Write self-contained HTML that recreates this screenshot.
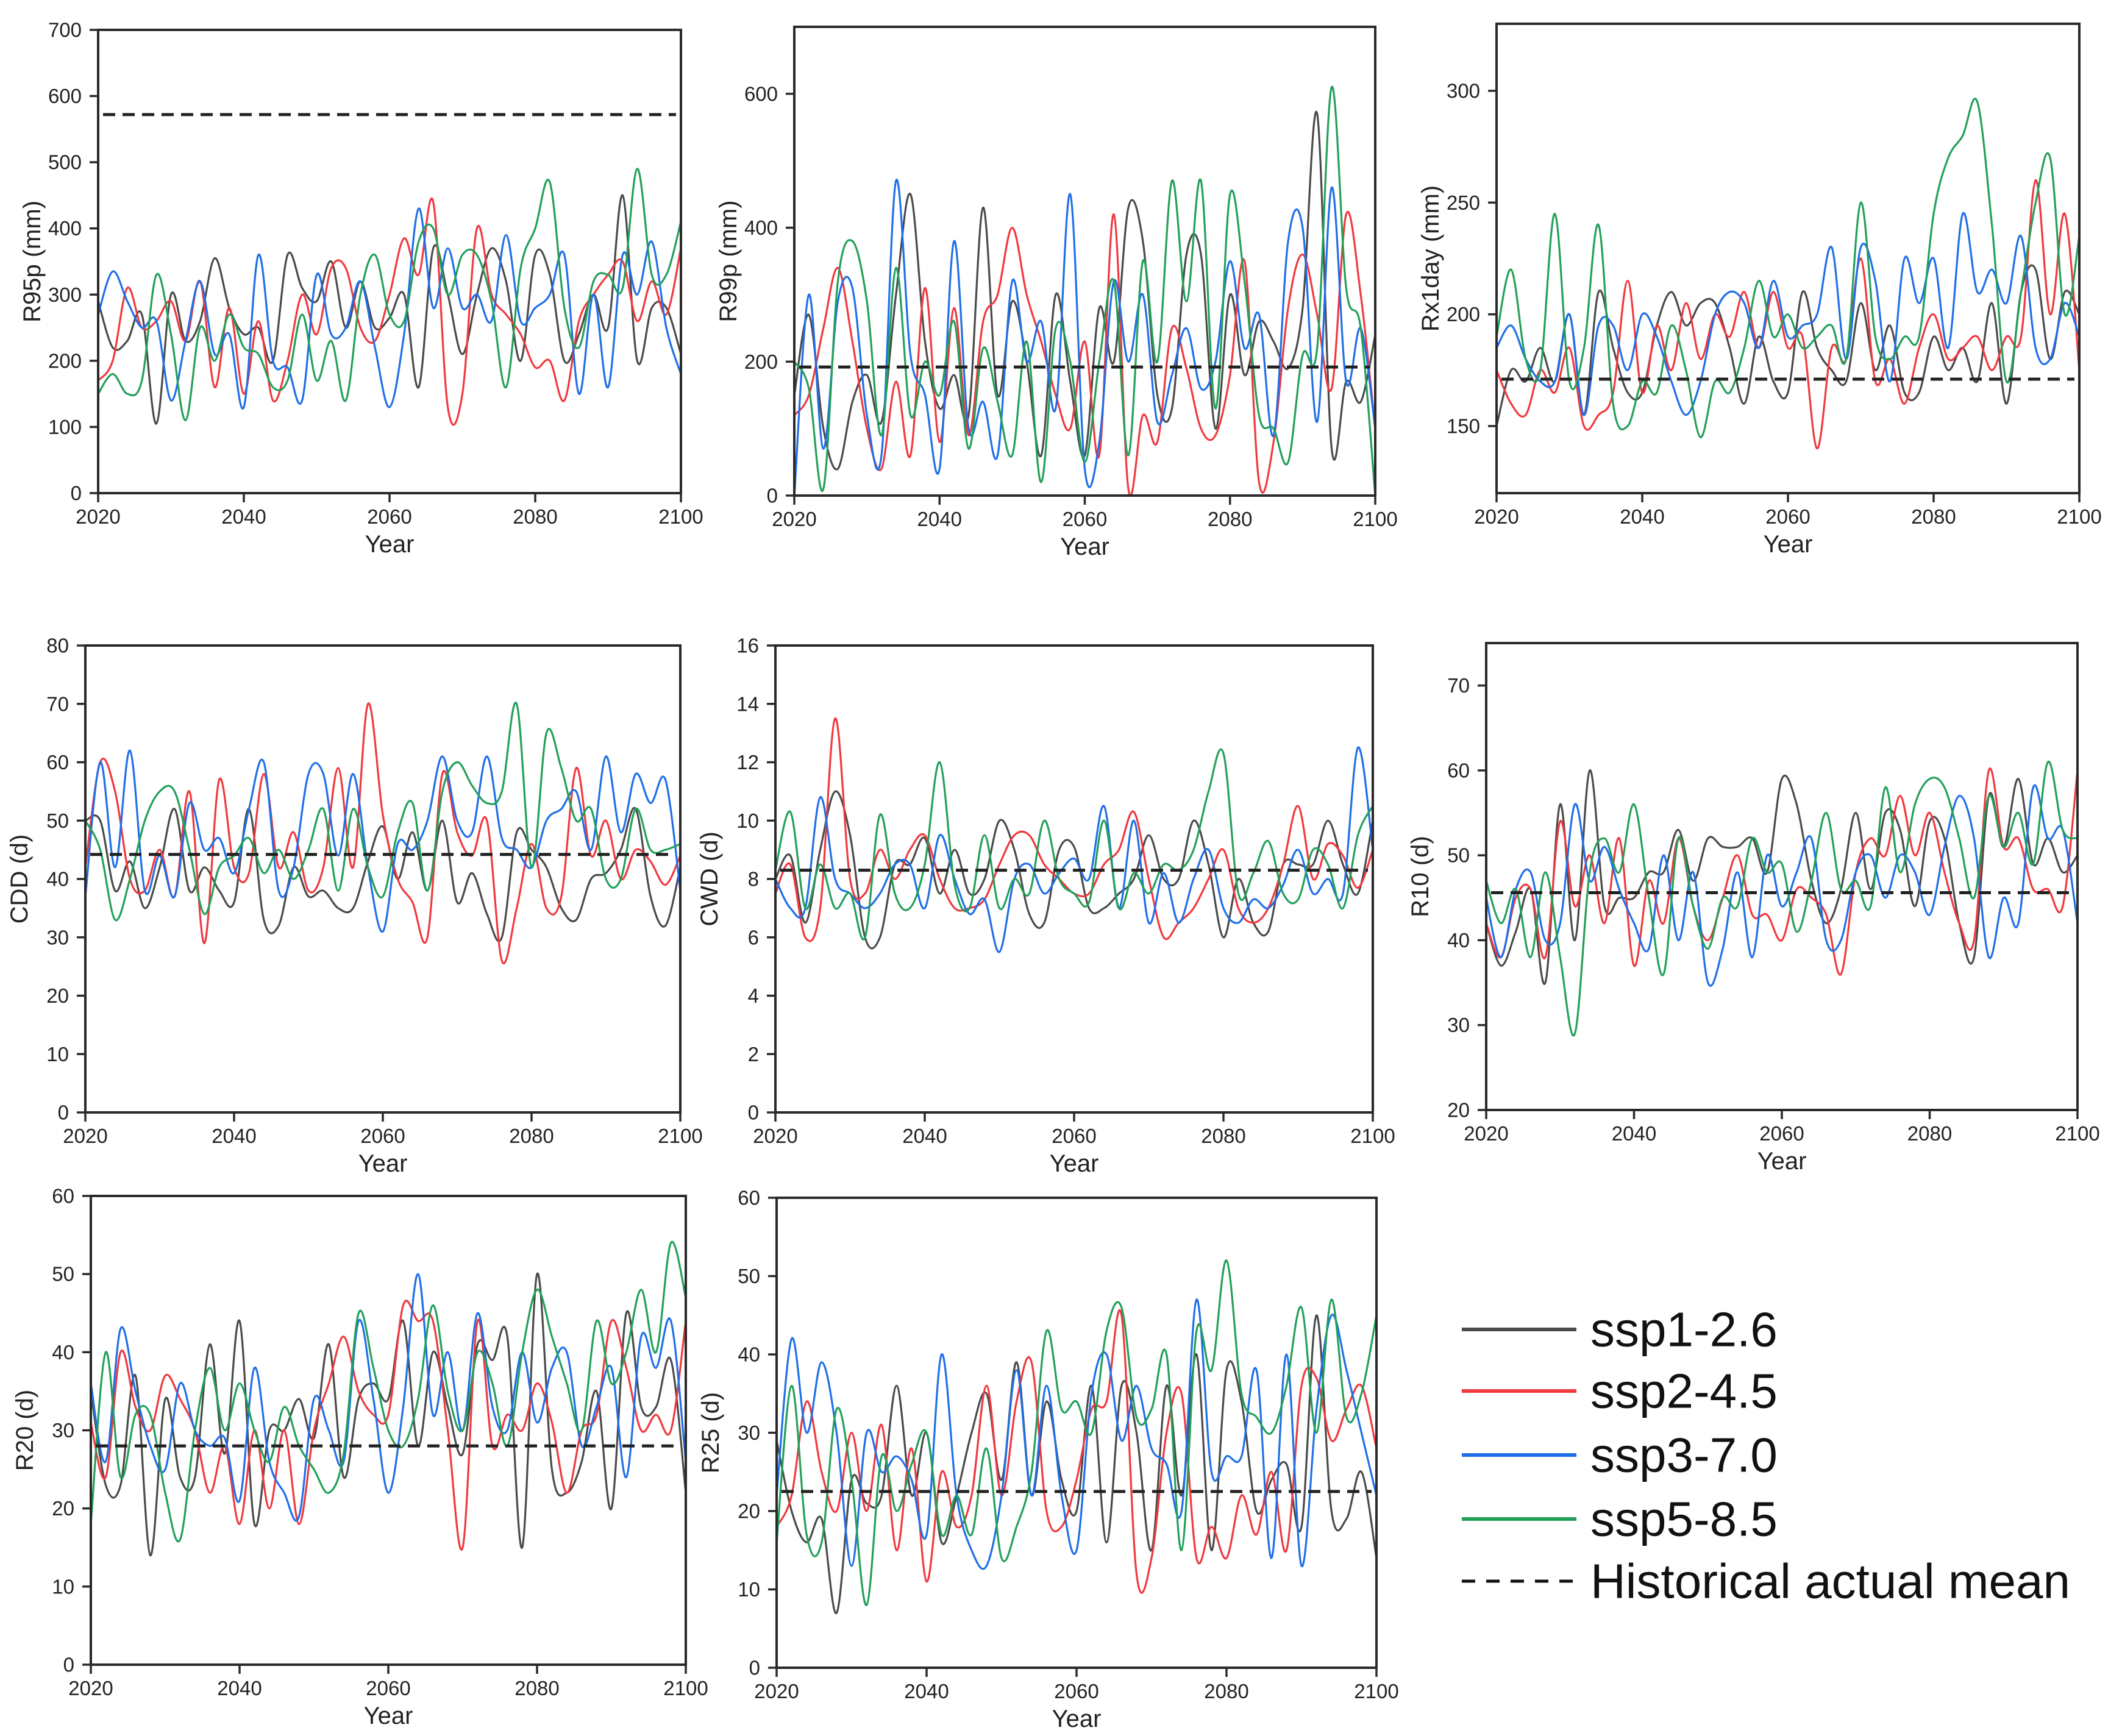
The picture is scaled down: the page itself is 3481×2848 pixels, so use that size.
<!DOCTYPE html>
<html><head><meta charset="utf-8"><style>
html,body{margin:0;padding:0;background:#fff;}
svg{display:block;font-family:"Liberation Sans",Arial,sans-serif;}
</style></head><body>
<svg id="fig" xmlns="http://www.w3.org/2000/svg" width="3481" height="2848" viewBox="0 0 3481 2848">
<rect width="3481" height="2848" fill="#fff"/>
<g id="legend">
 <g><line x1="2398" y1="2181" x2="2586" y2="2181" stroke="#4a4a4a" stroke-width="6"/><text x="2609" y="2181" font-size="80" dominant-baseline="central" fill="#111">ssp1-2.6</text></g>
 <g><line x1="2398" y1="2282" x2="2586" y2="2282" stroke="#f0393f" stroke-width="6"/><text x="2609" y="2282" font-size="80" dominant-baseline="central" fill="#111">ssp2-4.5</text></g>
 <g><line x1="2398" y1="2387" x2="2586" y2="2387" stroke="#1f6fe8" stroke-width="6"/><text x="2609" y="2387" font-size="80" dominant-baseline="central" fill="#111">ssp3-7.0</text></g>
 <g><line x1="2398" y1="2492" x2="2586" y2="2492" stroke="#22a05a" stroke-width="6"/><text x="2609" y="2492" font-size="80" dominant-baseline="central" fill="#111">ssp5-8.5</text></g>
 <g><line x1="2398" y1="2594" x2="2586" y2="2594" stroke="#111" stroke-width="5" stroke-dasharray="22 18"/><text x="2609" y="2594" font-size="80" dominant-baseline="central" fill="#111">Historical actual mean</text></g>
</g>
</svg>
<script>
const years = [2020,2022,2024,2026,2028,2030,2032,2034,2036,2038,2040,2042,2044,2046,2048,2050,2052,2054,2056,2058,2060,2062,2064,2066,2068,2070,2072,2074,2076,2078,2080,2082,2084,2086,2088,2090,2092,2094,2096,2098,2100];
const xTicks = [2020,2040,2060,2080,2100];

// R95p
const r95p_ssp126 = [290,220,230,270,105,300,230,260,355,280, 240,250,200,360,310,290,350,250,320,250, 265,300,160,370,300,210,300,370,320,200, 360,330,200,240,300,250,450,200,280,280, 210];
const r95p_ssp245 = [170,200,310,250,260,290,230,320,160,280, 150,260,140,200,300,240,340,340,250,230, 300,385,330,440,130,150,400,300,270,240, 190,200,140,260,300,330,350,260,320,270, 370];
const r95p_ssp370 = [270,335,290,250,260,140,230,320,210,240, 130,360,200,190,140,330,240,250,320,220, 130,240,430,280,370,280,300,260,390,260, 280,300,360,150,300,160,360,300,380,250, 180];
const r95p_ssp585 = [150,180,150,170,330,240,110,250,200,270, 220,210,160,170,270,170,230,140,300,360, 270,260,380,400,300,360,360,290,160,340, 400,470,280,220,320,330,310,490,330,330, 410];
const r95p_hist = 572;
const r95p_ticks = [0,100,200,300,400,500,600,700];

// R99p
const r99p_ssp126 = [150,270,100,40,140,180,110,300,450,230, 130,180,120,430,150,290,200,60,300,170, 60,280,200,430,380,150,130,360,360,100, 300,180,260,230,190,280,570,70,170,140, 240];
const r99p_ssp245 = [120,150,250,340,230,100,40,170,60,310, 80,280,90,260,300,400,300,230,150,100, 230,60,420,10,120,80,250,190,100,90, 180,350,20,80,280,360,270,160,420,300, 100];
const r99p_ssp370 = [0,300,70,290,310,120,60,470,210,150, 40,380,100,140,60,320,200,260,130,450, 40,80,320,200,300,110,180,250,160,200, 350,220,270,90,380,400,110,460,170,250, 100];
const r99p_ssp585 = [200,160,10,320,380,290,90,340,120,200, 150,260,70,220,140,60,230,20,250,200, 50,200,320,60,350,200,470,290,470,130, 450,320,120,100,50,210,220,610,310,250, 0];
const r99p_hist = 192;
const r99p_ticks = [0,200,400,600];

// Rx1day
const rx1_ssp126 = [150,175,170,185,170,200,155,210,185,165, 165,195,210,195,205,205,185,160,190,170, 165,210,185,175,170,205,175,195,165,165, 190,175,185,170,205,160,210,220,180,210, 200];
const rx1_ssp245 = [175,160,155,175,165,185,150,155,165,215, 165,195,175,205,180,200,190,210,185,210, 185,190,140,185,180,225,170,180,160,185, 200,180,185,190,175,190,190,260,200,245, 175];
const rx1_ssp370 = [185,195,180,170,170,200,155,195,195,175, 200,190,170,155,170,200,210,205,185,215, 190,195,200,230,180,230,215,170,225,205, 225,185,245,210,220,205,235,185,180,205, 190];
const rx1_ssp585 = [190,220,180,175,245,170,185,240,160,150, 170,165,195,175,145,170,165,185,215,190, 200,185,190,195,180,250,190,180,190,190, 245,270,280,295,240,170,210,250,270,200, 235];
const rx1_hist = 171;
const rx1_ticks = [150,200,250,300];

// CDD
const cdd_ssp126 = [50,50,38,43,35,42,52,38,42,38, 36,52,33,32,42,37,38,35,35,43, 49,40,48,38,50,36,41,34,30,48, 45,42,35,33,40,41,45,52,37,32, 42];
const cdd_ssp245 = [42,60,55,40,38,45,37,55,29,57, 42,41,58,42,48,38,42,59,42,70, 51,40,36,30,58,48,44,50,26,35, 46,35,37,59,44,50,40,45,43,39, 44];
const cdd_ssp370 = [37,60,42,62,38,44,37,53,45,47, 41,52,60,38,42,58,58,44,58,42, 31,46,45,50,61,50,48,61,47,45, 42,50,52,55,45,61,48,58,53,57, 38];
const cdd_ssp585 = [50,45,33,40,50,55,55,45,34,42, 44,47,41,45,40,45,52,38,52,42, 37,48,53,38,55,60,56,53,55,70, 42,65,59,50,52,40,40,52,45,45, 46];
const cdd_hist = 44.2;
const cdd_ticks = [0,10,20,30,40,50,60,70,80];

// CWD
const cwd_ssp126 = [8,8.8,6.5,9,11,9.5,6,6,8.5,8.5, 9.4,7.5,9,7.5,8,10,9,6.8,6.5,9, 9.1,7,7,7.5,8,9.5,8,8,10,8.5, 6,8,6.5,6.2,8.5,8.5,8.5,10,8.5,7.5, 10];
const cwd_ssp245 = [7.5,8.5,6,7,13.5,8,7.5,9,8,9, 9.5,8,7,7,7.3,8.5,9.5,9.5,8.5,8, 7.5,7.5,8.5,9,10.3,8,6,6.5,7,8, 9,7,6.5,7,8.5,10.5,8,9.2,8.8,7.7, 9];
const cwd_ssp370 = [8,7,7,10.8,8,7.5,7,7.5,8.5,8.5, 7,9.5,8,6.8,7.3,5.5,8,8.5,7.5,8.2, 8.7,8,10.5,7,10,6.5,8.2,6.5,8,9, 7,6.5,7.3,7,7.8,9,7.5,8,7.5,12.5, 9];
const cwd_ssp585 = [8.3,10.3,7,8.5,7,7.5,6,10.2,7.5,7, 8.5,12,7.8,7,9.5,7,8,7.5,10,8, 7.5,7.2,10,7,8.2,7.5,8.5,8.3,9,11, 12.3,7.5,8.2,9.3,7.5,7.3,9,8.5,7,9.5, 10.5];
const cwd_hist = 8.3;
const cwd_ticks = [0,2,4,6,8,10,12,14,16];

// R10
const r10_ssp126 = [42,37,41,46,35,56,40,60,44,45, 45,48,48,53,47,52,51,51,52,48, 59,56,47,42,46,55,46,55,53,44, 54,52,42,38,57,51,59,49,52,48, 50];
const r10_ssp245 = [42,38,45,46,38,54,44,50,42,52, 37,47,42,52,44,40,45,50,43,43, 40,46,45,43,36,48,52,50,57,50, 55,48,42,40,60,51,52,46,46,44, 60];
const r10_ssp370 = [45,38,46,48,40,42,56,47,51,46, 42,39,50,40,48,35,39,48,38,50, 44,48,52,40,40,48,50,45,50,48, 43,51,57,52,38,45,42,58,52,53, 42];
const r10_ssp585 = [47,42,46,38,48,38,29,48,52,48, 56,45,36,52,44,39,45,44,52,48, 49,41,47,55,46,47,44,58,48,56, 59,58,52,45,57,51,55,49,61,53, 52];
const r10_hist = 45.6;
const r10_ticks = [20,30,40,50,60,70];

// R20
const r20_ssp126 = [35,23,23,37,14,34,24,24,41,27, 44,18,30,30,34,29,41,24,34,36, 34,44,28,40,33,27,41,39,42,15, 50,25,22,26,35,20,45,33,33,39, 22];
const r20_ssp245 = [31,24,40,33,30,37,34,30,22,28, 18,30,20,30,18,30,36,42,35,32, 32,46,44,44,30,15,44,28,32,30, 36,31,22,30,32,44,38,30,32,30, 44];
const r20_ssp370 = [36,26,43,35,28,25,36,30,28,29, 21,38,26,22,19,34,30,26,44,34, 22,33,50,32,40,30,45,33,30,40, 31,38,40,28,33,38,24,42,38,44, 26];
const r20_ssp585 = [18,40,24,32,32,22,16,30,38,30, 36,30,26,33,28,25,22,27,45,38, 30,28,34,46,35,30,40,36,28,40, 48,42,36,30,44,36,40,48,40,54, 47];
const r20_hist = 28;
const r20_ticks = [0,10,20,30,40,50,60];

// R25
const r25_ssp126 = [29,20,16,19,7,24,21,22,36,22, 30,16,22,30,35,24,39,22,34,24, 20,36,16,36,30,15,36,22,40,15, 38,34,20,24,26,18,45,20,19,25, 14];
const r25_ssp245 = [18,22,34,25,20,30,20,31,15,28, 11,25,18,22,36,22,34,39,20,18, 24,33,34,45,12,14,30,35,14,18, 14,22,17,25,15,36,37,29,33,36, 28];
const r25_ssp370 = [22,42,30,39,30,13,30,25,27,24, 17,40,22,15,13,22,38,22,36,22, 15,35,40,29,36,28,26,20,47,25, 27,27,38,14,40,13,33,45,38,30, 22];
const r25_ssp585 = [16,36,17,16,33,24,8,27,20,26, 30,17,22,17,28,14,18,25,43,33, 34,30,43,46,32,33,40,15,43,38, 52,35,32,30,36,46,30,47,32,35, 45];
const r25_hist = 22.5;
const r25_ticks = [0,10,20,30,40,50,60];

const colors = ['#4a4a4a','#f0393f','#1f6fe8','#22a05a'];
const seriesNames = ['ssp1-2.6','ssp2-4.5','ssp3-7.0','ssp5-8.5'];

const panels = [
 {id:'r95p', label:'R95p (mm)', L:161,R:1117,T:49,B:809, ymin:0,ymax:700, ticks:r95p_ticks, hist:r95p_hist, s:[r95p_ssp126,r95p_ssp245,r95p_ssp370,r95p_ssp585]},
 {id:'r99p', label:'R99p (mm)', L:1303,R:2256,T:44,B:813, ymin:0,ymax:700, ticks:r99p_ticks, hist:r99p_hist, s:[r99p_ssp126,r99p_ssp245,r99p_ssp370,r99p_ssp585]},
 {id:'rx1day', label:'Rx1day (mm)', L:2455,R:3411,T:39,B:809, ymin:120,ymax:330, ticks:rx1_ticks, hist:rx1_hist, s:[rx1_ssp126,rx1_ssp245,rx1_ssp370,rx1_ssp585]},
 {id:'cdd', label:'CDD (d)', L:140,R:1116,T:1059,B:1825, ymin:0,ymax:80, ticks:cdd_ticks, hist:cdd_hist, s:[cdd_ssp126,cdd_ssp245,cdd_ssp370,cdd_ssp585]},
 {id:'cwd', label:'CWD (d)', L:1272,R:2252,T:1059,B:1825, ymin:0,ymax:16, ticks:cwd_ticks, hist:cwd_hist, s:[cwd_ssp126,cwd_ssp245,cwd_ssp370,cwd_ssp585]},
 {id:'r10', label:'R10 (d)', L:2438,R:3408,T:1055,B:1821, ymin:20,ymax:75, ticks:r10_ticks, hist:r10_hist, s:[r10_ssp126,r10_ssp245,r10_ssp370,r10_ssp585]},
 {id:'r20', label:'R20 (d)', L:149,R:1125,T:1962,B:2731, ymin:0,ymax:60, ticks:r20_ticks, hist:r20_hist, s:[r20_ssp126,r20_ssp245,r20_ssp370,r20_ssp585]},
 {id:'r25', label:'R25 (d)', L:1274,R:2258,T:1965,B:2736, ymin:0,ymax:60, ticks:r25_ticks, hist:r25_hist, s:[r25_ssp126,r25_ssp245,r25_ssp370,r25_ssp585]}
];

const NS='http://www.w3.org/2000/svg';
const svg=document.getElementById('fig');
function mk(tag, attrs, parent){const e=document.createElementNS(NS,tag);for(const k in attrs)e.setAttribute(k,attrs[k]);parent.appendChild(e);return e;}
function smoothPath(pts){
  let d='M'+pts[0][0].toFixed(1)+','+pts[0][1].toFixed(1);
  for(let i=0;i<pts.length-1;i++){
    const p0=pts[i-1]||pts[i],p1=pts[i],p2=pts[i+1],p3=pts[i+2]||p2;
    const c1x=p1[0]+(p2[0]-p0[0])/6,c1y=p1[1]+(p2[1]-p0[1])/6;
    const c2x=p2[0]-(p3[0]-p1[0])/6,c2y=p2[1]-(p3[1]-p1[1])/6;
    d+='C'+c1x.toFixed(1)+','+c1y.toFixed(1)+' '+c2x.toFixed(1)+','+c2y.toFixed(1)+' '+p2[0].toFixed(1)+','+p2[1].toFixed(1);
  }
  return d;
}
panels.forEach(p=>{
  const g=mk('g',{},svg);
  
  
  const xs=v=>p.L+(v-2020)/80*(p.R-p.L);
  const ys=v=>p.B-(v-p.ymin)/(p.ymax-p.ymin)*(p.B-p.T);
  const clipId='clip-'+p.id;
  const cp=mk('clipPath',{id:clipId},g);
  mk('rect',{x:p.L,y:p.T,width:p.R-p.L,height:p.B-p.T},cp);
  const lines=mk('g',{'clip-path':'url(#'+clipId+')'},g);
  p.s.forEach((arr,si)=>{
    const pts=arr.map((v,i)=>[xs(years[i]),ys(v)]);
    const path=mk('path',{d:smoothPath(pts),fill:'none',stroke:colors[si],'stroke-width':3.2,'stroke-linejoin':'round'},lines);
    
    
  });
  const h=mk('line',{x1:p.L+8,x2:p.R-8,y1:ys(p.hist),y2:ys(p.hist),stroke:'#222','stroke-width':5,'stroke-dasharray':'20 12'},g);
  
  
  const fr=mk('rect',{x:p.L,y:p.T,width:p.R-p.L,height:p.B-p.T,fill:'none',stroke:'#2a2a2a','stroke-width':4},g);
  
  
  const ya=mk('g',{},g);
  
  
  p.ticks.forEach(t=>{
    const y=ys(t);
    mk('line',{x1:p.L-14,x2:p.L,y1:y,y2:y,stroke:'#2a2a2a','stroke-width':3.5},ya);
    const tx=mk('text',{x:p.L-27,y:y,'font-size':33,'text-anchor':'end','dominant-baseline':'central',fill:'#222'},ya);
    tx.textContent=t;
    
    
  });
  const xa=mk('g',{},g);
  
  
  xTicks.forEach(t=>{
    const x=xs(t);
    mk('line',{x1:x,x2:x,y1:p.B,y2:p.B+15,stroke:'#2a2a2a','stroke-width':3.5},xa);
    const tx=mk('text',{x:x,y:p.B+50,'font-size':33,'text-anchor':'middle',fill:'#222'},xa);
    tx.textContent=t;
    
    
  });
  const xt=mk('text',{x:(p.L+p.R)/2,y:p.B+97,'font-size':40,'text-anchor':'middle',fill:'#222'},g);
  xt.textContent='Year';
  
  
  const cy=(p.T+p.B)/2, cx=p.L-108;
  const yt=mk('text',{x:cx,y:cy,'font-size':40,'text-anchor':'middle','dominant-baseline':'central',fill:'#222',transform:'rotate(-90 '+cx+' '+cy+')'},g);
  yt.textContent=p.label;
  
  
});
</script>
</body></html>
